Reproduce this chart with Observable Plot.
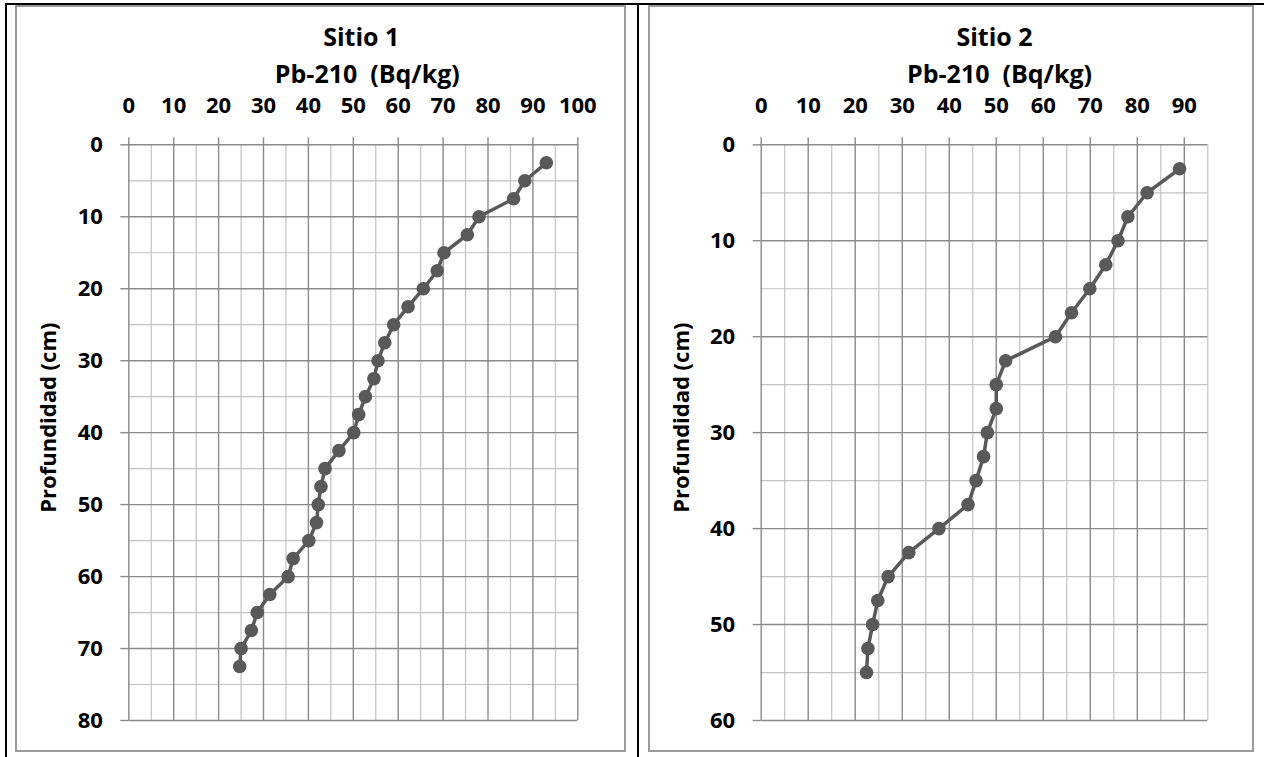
<!DOCTYPE html>
<html>
<head>
<meta charset="utf-8">
<script src="https://cdn.jsdelivr.net/npm/d3@7"></script>
<script src="https://cdn.jsdelivr.net/npm/@observablehq/plot@0.6"></script>
<style>
  html, body { margin: 0; padding: 0; background: #fff; }
  #root { position: relative; width: 1264px; height: 757px; overflow: hidden; background: #fff; font-family: "Open Sans", sans-serif; }
  .blk { position: absolute; background: #000; }
  .box { position: absolute; border: 2px solid #9a9a9a; box-sizing: border-box; pointer-events: none; }
  .chart { position: absolute; }
  .chart svg { display: block; overflow: visible; }
</style>
</head>
<body>
<div id="root">
  <div class="blk" style="left:5px;top:3px;width:1259px;height:2px"></div>
  <div class="blk" style="left:5px;top:3px;width:2px;height:754px"></div>
  <div class="blk" style="left:637px;top:3px;width:2px;height:754px"></div>
  <div class="chart" id="c1" style="left:15px;top:5px"></div>
  <div class="chart" id="c2" style="left:648px;top:5px"></div>
  <div class="box" style="left:15px;top:5px;width:611px;height:747px"></div>
  <div class="box" style="left:648px;top:5px;width:606px;height:747px"></div>
</div>
<script>
// ---- Data ----
const site1Depth = [2.5, 5, 7.5, 10, 12.5, 15, 17.5, 20, 22.5, 25, 27.5, 30, 32.5, 35, 37.5, 40, 42.5, 45, 47.5, 50, 52.5, 55, 57.5, 60, 62.5, 65, 67.5, 70, 72.5];
const site1Pb    = [93.0, 88.2, 85.7, 78.0, 75.4, 70.2, 68.7, 65.6, 62.2, 59.0, 57.0, 55.5, 54.6, 52.7, 51.2, 50.1, 46.8, 43.7, 42.8, 42.2, 41.8, 40.1, 36.6, 35.5, 31.4, 28.6, 27.3, 25.0, 24.7];

const site2Depth = [2.5, 5, 7.5, 10, 12.5, 15, 17.5, 20, 22.5, 25, 27.5, 30, 32.5, 35, 37.5, 40, 42.5, 45, 47.5, 50, 52.5, 55];
const site2Pb    = [89.0, 82.1, 78.0, 75.9, 73.3, 69.9, 66.0, 62.6, 52.0, 50.0, 50.0, 48.1, 47.3, 45.7, 44.0, 37.8, 31.4, 27.0, 24.8, 23.7, 22.7, 22.4];

const titles = ["Sitio 1", "Sitio 2"];
const xTitle = "Pb-210  (Bq/kg)";
const yTitle = "Profundidad (cm)";

const xMajor1 = [0, 10, 20, 30, 40, 50, 60, 70, 80, 90, 100];
const xMinor1 = [5, 15, 25, 35, 45, 55, 65, 75, 85, 95];
const yMajor1 = [0, 10, 20, 30, 40, 50, 60, 70, 80];
const yMinor1 = [5, 15, 25, 35, 45, 55, 65, 75];

const xMajor2 = [0, 10, 20, 30, 40, 50, 60, 70, 80, 90];
const xMinor2 = [5, 15, 25, 35, 45, 55, 65, 75, 85, 95];
const yMajor2 = [0, 10, 20, 30, 40, 50, 60];
const yMinor2 = [5, 15, 25, 35, 45, 55];

const FONT = "'Open Sans', sans-serif";
const lineColor = "#595959";
const majorColor = "#8a8a8a";
const minorColor = "#c2c2c2";

function drawChart({el, title, depth, pb, xDomain, yDomain, xMajor, xMinor, yMajor, yMinor, width, height, mLeft, mRight, mTop, mBottom, titleDx, subDx}) {
  const data = depth.map((d, i) => ({depth: d, pb: pb[i]}));
  const chart = Plot.plot({
    width, height,
    marginLeft: mLeft, marginRight: mRight, marginTop: mTop, marginBottom: mBottom,
    style: {fontFamily: FONT, background: "transparent", color: "#000"},
    x: {domain: xDomain},
    y: {domain: yDomain, reverse: true},
    marks: [
      Plot.gridX(xMinor, {stroke: minorColor, strokeOpacity: 1, strokeWidth: 1.2}),
      Plot.gridY(yMinor, {stroke: minorColor, strokeOpacity: 1, strokeWidth: 1.2}),
      Plot.gridX(xMajor, {stroke: majorColor, strokeOpacity: 1, strokeWidth: 1.4}),
      Plot.gridY(yMajor, {stroke: majorColor, strokeOpacity: 1, strokeWidth: 1.4}),
      Plot.axisX(xMajor, {anchor: "top", tickSize: 8, tickPadding: 24, stroke: majorColor, strokeWidth: 1.4,
        fontSize: 22, fontWeight: "bold", fill: "#000", label: null}),
      Plot.axisY(yMajor, {anchor: "left", tickSize: 8, tickPadding: 18, stroke: majorColor, strokeWidth: 1.4,
        fontSize: 22, fontWeight: "bold", fill: "#000", label: null}),
      Plot.line(data, {x: "pb", y: "depth", stroke: lineColor, strokeWidth: 3.5}),
      Plot.dot(data, {x: "pb", y: "depth", r: 6.8, fill: lineColor, stroke: "none"}),
      Plot.text([title], {frameAnchor: "top", dx: titleDx, dy: -107, fontSize: 25, fontWeight: "bold", fill: "#000", lineAnchor: "middle", textAnchor: "middle"}),
      Plot.text([xTitle], {frameAnchor: "top", dx: subDx, dy: -70, fontSize: 25, fontWeight: "bold", fill: "#000", lineAnchor: "middle", textAnchor: "middle"}),
      Plot.text([yTitle], {frameAnchor: "left", dx: -mLeft + 33, dy: -15, rotate: -90, fontSize: 22, fontWeight: "bold", fill: "#000", lineAnchor: "middle", textAnchor: "middle"})
    ]
  });
  document.getElementById(el).appendChild(chart);
}

drawChart({el: "c1", title: titles[0], depth: site1Depth, pb: site1Pb,
  xDomain: [0, 100], yDomain: [0, 80], xMajor: xMajor1, xMinor: xMinor1, yMajor: yMajor1, yMinor: yMinor1,
  width: 610, height: 746, mLeft: 113.3, mRight: 47.7, mTop: 139.3, mBottom: 31, titleDx: 8, subDx: 14});

drawChart({el: "c2", title: titles[1], depth: site2Depth, pb: site2Pb,
  xDomain: [0, 95], yDomain: [0, 60], xMajor: xMajor2, xMinor: xMinor2, yMajor: yMajor2, yMinor: yMinor2,
  width: 605, height: 746, mLeft: 112.7, mRight: 45.7, mTop: 139.3, mBottom: 31, titleDx: 10, subDx: 15});
</script>
</body>
</html>
